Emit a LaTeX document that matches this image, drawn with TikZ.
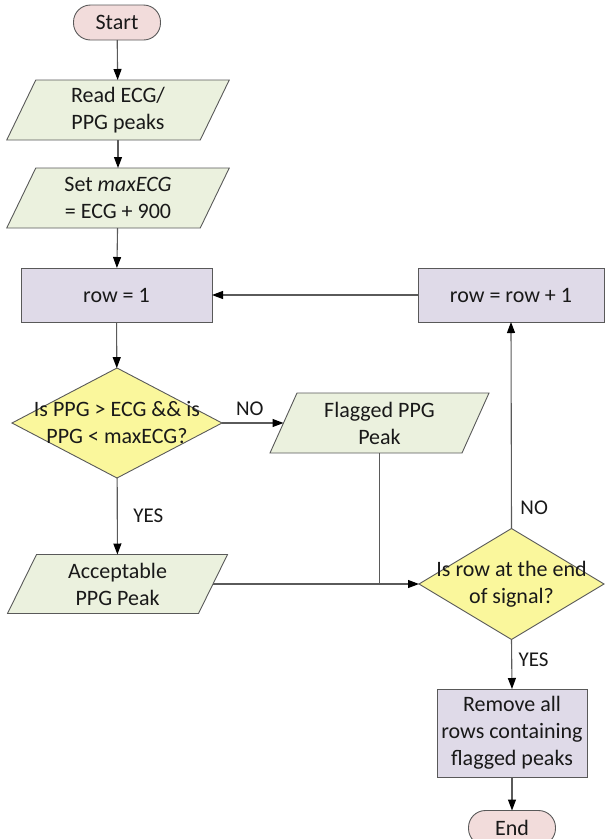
\documentclass[tikz,border=0pt]{standalone}
\usepackage{fontspec}
\setmainfont{Carlito}
\usetikzlibrary{shapes.geometric,arrows.meta,backgrounds}
\definecolor{termfill}{HTML}{F2DCDB}
\definecolor{parafill}{HTML}{EBF1DE}
\definecolor{procfill}{HTML}{DFDAE8}
\definecolor{decfill}{HTML}{FAF79C}
\definecolor{edgegray}{HTML}{595959}
\definecolor{linegray}{HTML}{5A5A5A}
\newcommand\drawpara[2]{%
  \filldraw[fill=parafill,draw=edgegray,line width=0.9pt]
    ([xshift=#2]#1.north west) -- ([xshift=#2]#1.north east) --
    ([xshift=-#2]#1.south east) -- ([xshift=-#2]#1.south west) -- cycle;}
\begin{document}
\begin{tikzpicture}[x=1pt,y=-1pt,
  every node/.style={outer sep=0pt,font=\fontsize{22}{27}\selectfont,text=black!90},
  term/.style={rectangle,rounded corners=17pt,draw=edgegray,line width=0.9pt,fill=termfill,minimum width=87pt,minimum height=35pt,inner sep=0pt},
  para/.style={rectangle,draw=none,align=center,inner sep=0pt,minimum height=60pt},
  proc/.style={rectangle,draw=edgegray,line width=0.9pt,fill=procfill,align=center,inner sep=0pt,minimum height=54pt},
  dec/.style={diamond,draw=edgegray,line width=0.9pt,fill=decfill,inner sep=0pt,aspect=1.9},
  conn/.style={draw=linegray,line width=1.1pt},
  arr/.style={conn,-{Triangle[length=11pt,width=8pt,black]}},
  lbl/.style={inner sep=0pt,font=\fontsize{21}{24}\selectfont}
]
\useasboundingbox (0,0) rectangle (605,839);

\node[term] (start) at (117,22.5) {Start};
\node[para,minimum width=193.5pt] (read) at (118,110) {Read ECG/\\PPG peaks};
\node[para,minimum width=193.5pt] (set) at (118,198) {Set \textit{maxECG}\\= ECG + 900};
\node[proc,minimum width=191pt] (row1) at (116.5,295) {row = 1};
\node[proc,minimum width=186pt] (rowp) at (511,295) {row = row + 1};
\node[dec,minimum width=210pt,minimum height=110pt,
  label={[align=center,font=\fontsize{22}{27}\selectfont]center:Is PPG > ECG \&\& is\\PPG < maxECG?}] (d1) at (117,423) {};
\node[para,minimum width=192pt] (flag) at (379.5,423) {Flagged PPG\\Peak};
\node[para,minimum width=191pt,minimum height=59pt] (acc) at (117.5,584) {Acceptable\\PPG Peak};
\node[dec,minimum width=185pt,minimum height=111pt,
  label={[align=center,font=\fontsize{22}{27}\selectfont]center:Is row at the end\\of signal?}] (d2) at (511.5,584) {};
\node[proc,minimum width=150pt,minimum height=88pt] (rem) at (512,733) {Remove all\\rows containing\\flagged peaks};
\node[term] (end) at (512,828) {End};
\coordinate (join) at (flag.south |- acc.east);

\begin{pgfonlayer}{background}
  \drawpara{read}{14.5pt}
  \drawpara{set}{14.5pt}
  \drawpara{flag}{13.5pt}
  \drawpara{acc}{14.5pt}
\end{pgfonlayer}

\draw[arr] (start) -- (read);
\draw[arr] (read) -- (set);
\draw[arr] (set) -- (row1);
\draw[arr] (row1) -- (d1);
\draw[arr] (rowp) -- (row1);
\draw[arr] (d1) -- node[lbl,above=7pt,xshift=-3pt]{NO} (flag);
\draw[arr] (d1) -- node[lbl,right=16pt]{YES} (acc);
\draw[conn] (flag.south) -- (join);
\draw[arr] (acc.east) -- (d2.west);
\draw[arr] (d2.north) -- node[lbl,pos=0.1,right=9pt]{NO} (rowp.south);
\draw[arr] (d2.south) -- node[lbl,pos=0.4,right=7pt]{YES} (rem.north);
\draw[arr] (rem) -- (end);
\end{tikzpicture}
\end{document}
